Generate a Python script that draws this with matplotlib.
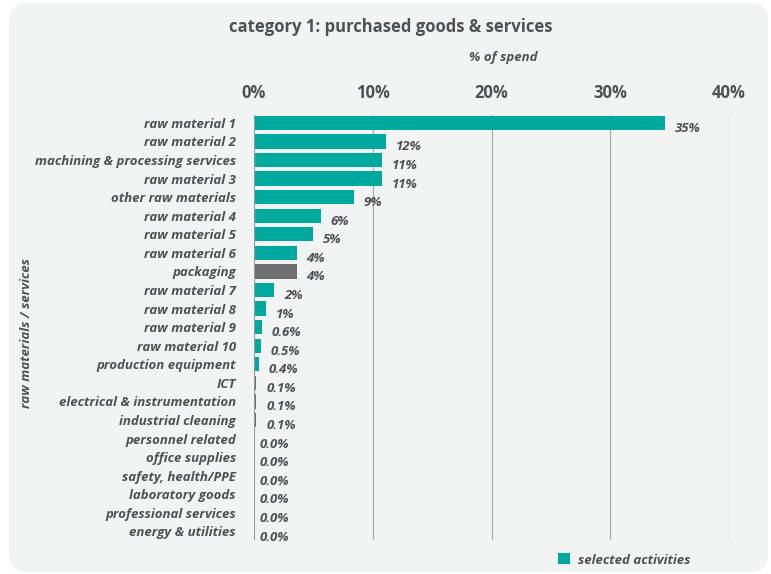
import matplotlib
matplotlib.use("Agg")
import matplotlib.pyplot as plt
from matplotlib.patches import FancyBboxPatch, Patch

categories = [
    "raw material 1", "raw material 2", "machining & processing services",
    "raw material 3", "other raw materials", "raw material 4", "raw material 5",
    "raw material 6", "packaging", "raw material 7", "raw material 8",
    "raw material 9", "raw material 10", "production equipment", "ICT",
    "electrical & instrumentation", "industrial cleaning", "personnel related",
    "office supplies", "safety, health/PPE", "laboratory goods",
    "professional services", "energy & utilities",
]
values = [34.6, 11.1, 10.8, 10.8, 8.4, 5.6, 5.0, 3.6, 3.6, 1.7, 1.0, 0.7, 0.55,
          0.4, 0.2, 0.2, 0.2, 0.0, 0.0, 0.0, 0.0, 0.0, 0.0]
value_labels = ["35%", "12%", "11%", "11%", "9%", "6%", "5%", "4%", "4%", "2%",
                "1%", "0.6%", "0.5%", "0.4%", "0.1%", "0.1%", "0.1%", "0.0%",
                "0.0%", "0.0%", "0.0%", "0.0%", "0.0%"]
selected = [True, True, True, True, True, True, True, True, False, True, True,
            True, True, True, False, False, False, True, True, True, True, True, True]
x_ticks = [0, 10, 20, 30, 40]
x_tick_labels = ["0%", "10%", "20%", "30%", "40%"]

TEAL = "#00A99D"
GREY = "#6D6E72"
TEXT = "#505056"
BG = "#F2F4F4"

plt.rcParams["font.family"] = ["Open Sans", "DejaVu Sans"]

fig = plt.figure(figsize=(7.71, 5.74), dpi=100)
fig.patch.set_facecolor("white")
panel = FancyBboxPatch((0.09, 0.02), 7.59, 5.69,
                       boxstyle="round,pad=0,rounding_size=0.18",
                       transform=fig.dpi_scale_trans, facecolor=BG,
                       edgecolor="none", zorder=-10)
fig.patches.append(panel)

ax = fig.add_axes([254 / 771, 1 - 540 / 574, (729 - 254) / 771, (540 - 115) / 574])
ax.set_facecolor("none")
for s in ax.spines.values():
    s.set_visible(False)

n = len(categories)
ypos = list(range(n))
colors = [TEAL if s else GREY for s in selected]
ax.barh(ypos, values, height=0.77, color=colors, zorder=3)

ax.set_xlim(0, 40)
ax.set_ylim(n - 1 + 0.46, -0.42)
ax.set_xticks(x_ticks)
ax.set_xticklabels(x_tick_labels)
ax.xaxis.tick_top()
ax.tick_params(axis="x", length=0, pad=9, labelsize=12, labelcolor=TEXT)
for lab in ax.get_xticklabels():
    lab.set_fontweight("bold")
ax.set_yticks(ypos)
ax.set_yticklabels(categories)
ax.tick_params(axis="y", length=0, pad=13, labelsize=9.5, labelcolor=TEXT)
for lab in ax.get_yticklabels():
    lab.set_fontweight("bold")
    lab.set_fontstyle("italic")

for x in x_ticks[1:]:
    ax.axvline(x, color="#ABABAB", lw=0.9, zorder=1)
ax.axvline(0, color="#9A9A9A", lw=1.5, zorder=4)

for y, v, lab in zip(ypos, values, value_labels):
    dx = 7.0 if v > 0 else 4.0
    ax.annotate(lab, xy=(v, y), xytext=(dx, -4), textcoords="offset points",
                ha="left", va="center", fontsize=9.5, fontweight="bold",
                fontstyle="italic", color=TEXT, zorder=5)

fig.text(391 / 771, 1 - 27 / 574, "category 1: purchased goods & services",
         ha="center", va="center", fontsize=12, fontweight="bold", color=TEXT)
fig.text(503 / 771, 1 - 58 / 574, "% of spend", ha="center", va="center",
         fontsize=9.5, fontweight="bold", fontstyle="italic", color=TEXT)
fig.text(27 / 771, 1 - 333 / 574, "raw materials / services", ha="center",
         va="center", rotation=90, fontsize=9.5, fontweight="bold",
         fontstyle="italic", color=TEXT)

leg = fig.legend(handles=[Patch(facecolor=TEAL, edgecolor="none",
                                label="selected activities")],
                 loc="center left", bbox_to_anchor=(546 / 771, 1 - 560 / 574),
                 frameon=False, handlelength=0.9, handleheight=0.9,
                 handletextpad=0.6, prop={"size": 9.5, "weight": "bold",
                                          "style": "italic"})
for t in leg.get_texts():
    t.set_color(TEXT)

fig.savefig("out.png", dpi=100, facecolor=fig.get_facecolor())
